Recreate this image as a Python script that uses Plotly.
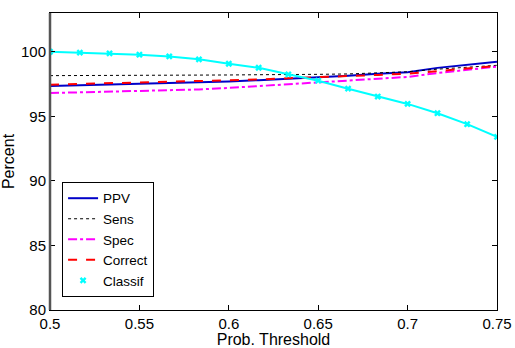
import plotly.graph_objects as go

# Probability thresholds (16 evenly spaced steps from 0.50 to 0.75)
threshold = [0.5, 0.5167, 0.5333, 0.55, 0.5667, 0.5833, 0.6, 0.6167,
             0.6333, 0.65, 0.6667, 0.6833, 0.7, 0.7167, 0.7333, 0.75]

ppv = [97.35, 97.40, 97.45, 97.50, 97.55, 97.62, 97.70, 97.80,
       97.90, 98.05, 98.15, 98.30, 98.42, 98.75, 99.00, 99.22]
sens = [98.15, 98.15, 98.15, 98.17, 98.17, 98.20, 98.20, 98.22,
        98.22, 98.25, 98.28, 98.35, 98.45, 98.65, 98.80, 98.95]
spec = [96.80, 96.85, 96.90, 96.95, 97.00, 97.08, 97.20, 97.35,
        97.50, 97.62, 97.75, 97.90, 98.05, 98.35, 98.60, 98.85]
correct = [97.45, 97.50, 97.55, 97.60, 97.65, 97.70, 97.75, 97.85,
           97.95, 98.02, 98.10, 98.20, 98.30, 98.50, 98.70, 98.90]
classif = [100.00, 99.93, 99.87, 99.77, 99.64, 99.41, 99.07, 98.76,
           98.25, 97.76, 97.14, 96.53, 95.96, 95.24, 94.39, 93.41]

x_ticks = [0.5, 0.55, 0.6, 0.65, 0.7, 0.75]
x_tick_text = ["0.5", "0.55", "0.6", "0.65", "0.7", "0.75"]
y_ticks = [80, 85, 90, 95, 100]

FONT = "Liberation Sans, Arial, Helvetica, sans-serif"

fig = go.Figure()
fig.add_trace(go.Scatter(x=threshold, y=ppv, mode="lines", name="PPV",
                         line=dict(color="#0000c8", width=2)))
fig.add_trace(go.Scatter(x=threshold, y=sens, mode="lines", name="Sens",
                         line=dict(color="black", width=1, dash="dot")))
fig.add_trace(go.Scatter(x=threshold, y=spec, mode="lines", name="Spec",
                         line=dict(color="#ff00ff", width=2, dash="dashdot")))
fig.add_trace(go.Scatter(x=threshold, y=correct, mode="lines", name="Correct",
                         line=dict(color="#ff0000", width=2, dash="dash")))
fig.add_trace(go.Scatter(x=threshold, y=classif, mode="lines+markers",
                         name="Classif", showlegend=False,
                         line=dict(color="#00ffff", width=2),
                         marker=dict(symbol="x", size=6, color="#00ffff")))
# legend entry for Classif shows the marker only
fig.add_trace(go.Scatter(x=[None], y=[None], mode="markers", name="Classif",
                         marker=dict(symbol="x", size=6, color="#00ffff")))

fig.update_layout(
    width=515, height=348,
    margin=dict(l=50, r=18, t=13, b=38),
    paper_bgcolor="white", plot_bgcolor="white",
    font=dict(family=FONT, size=15, color="black"),
    showlegend=True,
    legend=dict(x=0.027, y=0.044, xanchor="left", yanchor="bottom",
                bgcolor="white", bordercolor="black", borderwidth=1,
                font=dict(family=FONT, size=13.5), tracegroupgap=0,
                itemwidth=30),
    xaxis=dict(range=[0.5, 0.75], tickvals=x_ticks, ticktext=x_tick_text,
               ticks="inside", ticklen=5, tickcolor="black",
               tickfont=dict(size=15), automargin=False,
               showline=True, linecolor="black", linewidth=1, mirror="ticks",
               showgrid=False, zeroline=False,
               title=dict(text="Prob. Threshold", standoff=0,
                          font=dict(size=16))),
    yaxis=dict(range=[80, 103], tickvals=y_ticks,
               ticks="inside", ticklen=5, tickcolor="black",
               tickfont=dict(size=15), automargin=False,
               showline=True, linecolor="black", linewidth=1, mirror="ticks",
               showgrid=False, zeroline=False,
               title=dict(text="Percent", standoff=2,
                          font=dict(size=16))),
    shapes=[dict(type="line", xref="paper", yref="paper",
                 x0=0, x1=0, y0=0, y1=1,
                 line=dict(color="#555555", width=2.5))],
)

fig.write_html("out.html")
